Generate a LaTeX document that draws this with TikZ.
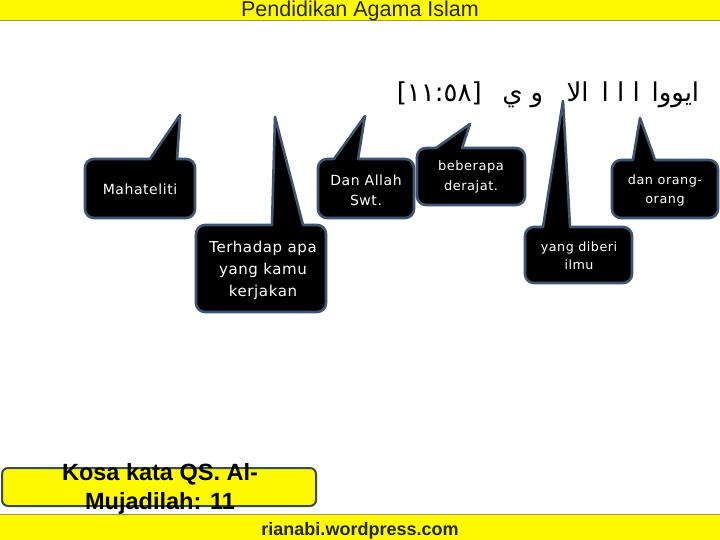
\documentclass[tikz,border=0pt]{standalone}
\usepackage{fontspec}
\setmainfont{Liberation Sans}
\newfontfamily\bubblefont[LetterSpace=4]{DejaVu Sans}
\newfontfamily\arabicfont[Script=Arabic]{DejaVu Sans}
\TeXXeTstate=1
\usetikzlibrary{positioning}
\usetikzlibrary{calc}

\definecolor{baryellow}{RGB}{255,250,0}
\definecolor{baredge}{RGB}{150,150,70}
\definecolor{bubbleedge}{RGB}{62,84,112}
\definecolor{kosaedge}{RGB}{60,74,84}

\begin{document}
\begin{tikzpicture}[x=1pt, y=-1pt,
    bubble/.style={draw=bubbleedge, line width=2.6pt, fill=black, line join=round},
    bubbletext/.style={text=white, align=center, inner sep=0pt},
    yellowbar/.style={fill=baryellow, draw=baredge, line width=0.8pt}]
  \useasboundingbox (0,0) rectangle (720,540);
  \fill[white] (0,0) rectangle (720,540);
  % Corner radius of the speech bubbles
  \def\radius{9}
  % Header and footer bars
  \draw[yellowbar] (-2,-2) rectangle (722,20);
  \node[anchor=base, text=black!85] (title) at (360,17) {\fontsize{21.5}{24}\selectfont Pendidikan Agama Islam};
  \draw[yellowbar] (-2,514) rectangle (722,542);
  \node[anchor=base, text=black!85] (site) at (360,535) {\bfseries\fontsize{18}{20}\selectfont rianabi.wordpress.com};
  % Verse with its reference
  \node (ayat) at (548,95) {\arabicfont\fontsize{26}{30}\selectfont\beginR ايووا\hspace{0.45em}ا ا ا\hspace{0.5em}الا\hspace{0.9em}و\hspace{0.3em}ي\hspace{0.8em}\beginL[١١:٥٨]\endL\endR};
  % Speech bubbles: name/left/top/right/bottom/base left/base right/tip x/tip y
  \foreach \nm/\xa/\ya/\xb/\yb/\bl/\br/\tx/\ty in {
      maha/85/159/195/218/150/177/180/115,
      terhadap/196/225/326/312/272/303/275/117,
      allah/318/159/414/218/334/358/365/116,
      derajat/417/148/525/205/436/462/470/124,
      ilmu/525/227/632/283/543/570/563/101,
      orang/612/160/718/218/633/655/640/118} {
    % Pointer tip of each bubble
    \coordinate (\nm tip) at (\tx,\ty);
    \draw[bubble] ({(\xa+\xb)/2},\yb) [rounded corners=\radius] -- (\xa,\yb) -- (\xa,\ya)
      [sharp corners] -- (\bl,\ya) -- (\nm tip) -- (\br,\ya)
      [rounded corners=\radius] -- (\xb,\ya) -- (\xb,\yb) -- cycle;
  }
  % Bubble texts
  \node[bubbletext, font=\bubblefont\fontsize{14}{20}\selectfont] (maha) at (140,189) {Mahateliti};
  \node[bubbletext, font=\bubblefont\fontsize{15}{22}\selectfont] (terhadap) at (263,270) {Terhadap apa\\yang kamu\\kerjakan};
  \node[bubbletext, font=\bubblefont\fontsize{14}{20}\selectfont] (allah) at (366,190) {Dan Allah\\Swt.};
  \node[bubbletext, font=\bubblefont\fontsize{13}{20}\selectfont] (derajat) at (471,177) {beberapa\\derajat.};
  \node[bubbletext, font=\bubblefont\fontsize{12.7}{18.5}\selectfont] (ilmu) at (579,256) {yang diberi\\ilmu};
  \node[bubbletext, font=\bubblefont\fontsize{12.8}{19}\selectfont] (orang) at (665,190) {dan orang-\\orang};
  % Vocabulary label
  \draw[fill=baryellow, draw=kosaedge, line width=2pt, rounded corners=6] (2,468) rectangle (316,506);
  \node[align=center, inner sep=0pt, font=\bfseries\fontsize{23.5}{29}\selectfont] (kosa) at (160,489) {Kosa kata QS. Al-\\Mujadilah: 11};
\end{tikzpicture}
\end{document}
